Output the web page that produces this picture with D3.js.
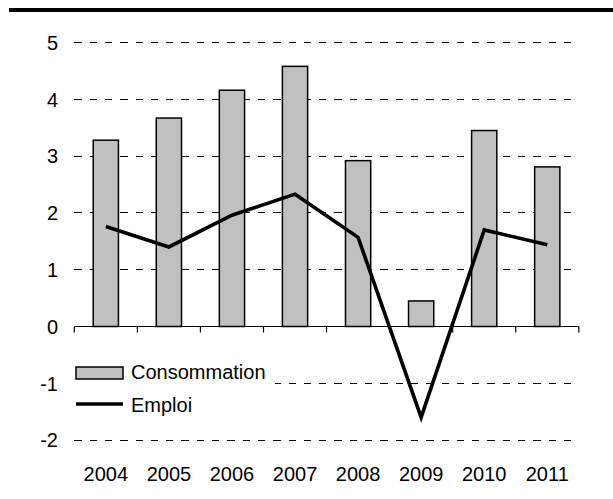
<!DOCTYPE html>
<html>
<head>
<meta charset="utf-8">
<script src="https://cdn.jsdelivr.net/npm/d3@7"></script>
<style>
  html, body { margin: 0; padding: 0; background: #fff; }
  svg { display: block; font-family: "Liberation Sans", Arial, sans-serif; }
</style>
</head>
<body>
<svg id="chart" width="613" height="499"></svg>
<script>
const years = ["2004", "2005", "2006", "2007", "2008", "2009", "2010", "2011"];
const consommation = [3.28, 3.67, 4.16, 4.58, 2.92, 0.45, 3.45, 2.81];
const emploi = [1.76, 1.40, 1.96, 2.33, 1.57, -1.60, 1.70, 1.44];
const yTicks = [-2, -1, 0, 1, 2, 3, 4, 5];
const seriesNames = ["Consommation", "Emploi"];

const svg = d3.select("#chart");

// top rule
svg.append("rect").attr("x", 9).attr("y", 8).attr("width", 604).attr("height", 4).attr("fill", "#000");

const x = d3.scaleBand().domain(years).range([74.3, 578.8]).padding(0);
const y = d3.scaleLinear().domain([-2, 5]).range([440.1, 42.5]);

// gridlines
svg.append("g").selectAll("line").data(yTicks.filter(t => t !== 0)).join("line")
  .attr("x1", 74.3).attr("x2", 578.8)
  .attr("y1", d => y(d)).attr("y2", d => y(d))
  .attr("stroke", "#000").attr("stroke-width", 1)
  .attr("stroke-dasharray", "7.3,8")
  .attr("shape-rendering", "crispEdges");

// y labels
svg.append("g").selectAll("text").data(yTicks).join("text")
  .attr("x", 58).attr("y", d => y(d)).attr("dy", "0.36em")
  .attr("text-anchor", "end").attr("font-size", 20).attr("fill", "#000")
  .text(d => d);

// bars
const bw = x.bandwidth() * 0.4;
svg.append("g").selectAll("rect").data(years).join("rect")
  .attr("x", d => x(d) + (x.bandwidth() - bw) / 2)
  .attr("width", bw)
  .attr("y", (d, i) => Math.min(y(consommation[i]), y(0)))
  .attr("height", (d, i) => Math.abs(y(consommation[i]) - y(0)))
  .attr("fill", "#c0c0c0").attr("stroke", "#000").attr("stroke-width", 1.5);

// zero axis
const axisG = svg.append("g").attr("transform", `translate(0,${y(0)})`);
axisG.append("line").attr("x1", 74.3).attr("x2", 578.8).attr("y1", 0).attr("y2", 0)
  .attr("stroke", "#000").attr("stroke-width", 1.2);
const bounds = years.map(d => x(d)).concat([x(years[years.length - 1]) + x.bandwidth()]);
axisG.selectAll("line.tick").data(bounds).join("line").attr("class", "tick")
  .attr("x1", d => d).attr("x2", d => d).attr("y1", 0).attr("y2", 6)
  .attr("stroke", "#000").attr("stroke-width", 1.2);

// x labels
svg.append("g").selectAll("text").data(years).join("text")
  .attr("x", d => x(d) + x.bandwidth() / 2).attr("y", 481)
  .attr("text-anchor", "middle").attr("font-size", 20).attr("fill", "#000")
  .text(d => d);

// line
const line = d3.line()
  .x((d, i) => x(years[i]) + x.bandwidth() / 2)
  .y(d => y(d));
svg.append("path").datum(emploi).attr("d", line)
  .attr("fill", "none").attr("stroke", "#000").attr("stroke-width", 3.6)
  .attr("stroke-linejoin", "miter").attr("stroke-miterlimit", 10);

// legend
const lg = svg.append("g");
lg.append("rect").attr("x", 70).attr("y", 357).attr("width", 205).attr("height", 62).attr("fill", "#fff");
lg.append("rect").attr("x", 76).attr("y", 367).attr("width", 47).attr("height", 12)
  .attr("fill", "#c0c0c0").attr("stroke", "#000").attr("stroke-width", 1.5);
lg.append("line").attr("x1", 76).attr("x2", 123).attr("y1", 404).attr("y2", 404)
  .attr("stroke", "#000").attr("stroke-width", 3.6);
lg.append("text").attr("x", 131).attr("y", 378.5).attr("font-size", 20)
  .text(seriesNames[0]);
lg.append("text").attr("x", 131).attr("y", 411.5).attr("font-size", 20)
  .text(seriesNames[1]);
</script>
</body>
</html>
